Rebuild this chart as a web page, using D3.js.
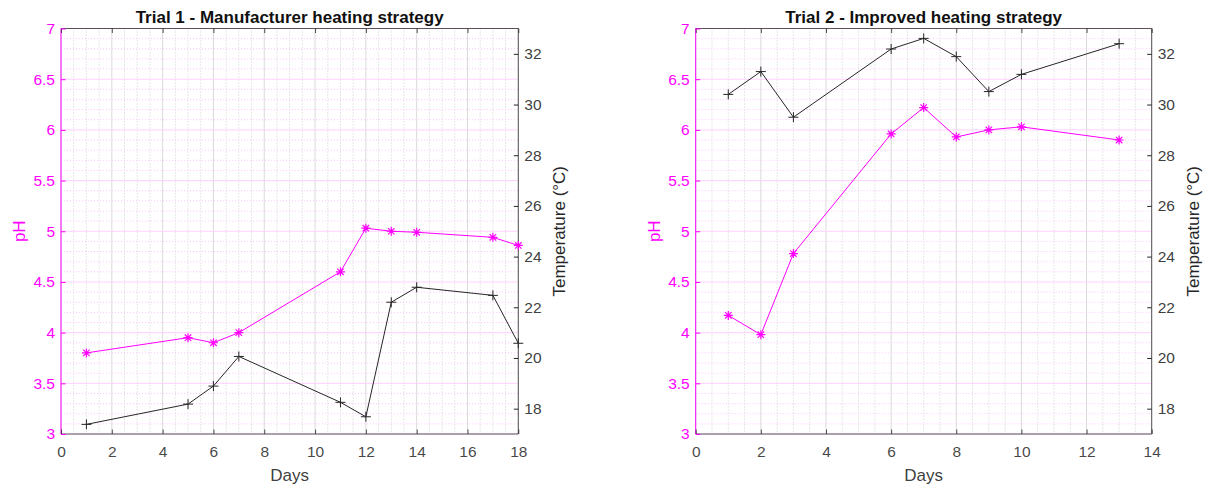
<!DOCTYPE html>
<html>
<head>
<meta charset="utf-8">
<script src="https://cdn.jsdelivr.net/npm/d3@7"></script>
<style>
  html, body { margin: 0; padding: 0; background: #fff; }
  svg { display: block; font-family: "Liberation Sans", Arial, Helvetica, sans-serif; }
</style>
</head>
<body>
<svg id="chart" width="1207" height="484"></svg>
<script>
// Trial 1 - manufacturer heating strategy
const trial1Days = [1, 5, 6, 7, 11, 12, 13, 14, 17, 18];
const trial1PH   = [3.80, 3.95, 3.90, 4.00, 4.60, 5.03, 5.00, 4.99, 4.94, 4.86];
const trial1Temp = [17.38, 18.18, 18.89, 20.06, 18.25, 17.68, 22.20, 22.79, 22.47, 20.58];

// Trial 2 - improved heating strategy
const trial2Days = [1, 2, 3, 6, 7, 8, 9, 10, 13];
const trial2PH   = [4.17, 3.98, 4.78, 5.96, 6.22, 5.93, 6.00, 6.03, 5.90];
const trial2Temp = [30.40, 31.30, 29.50, 32.19, 32.61, 31.89, 30.51, 31.19, 32.40];

// Axis ticks
const phTicks = [3, 3.5, 4, 4.5, 5, 5.5, 6, 6.5, 7];
const tempTicks = [18, 20, 22, 24, 26, 28, 30, 32];
const trial1DayTicks = [0, 2, 4, 6, 8, 10, 12, 14, 16, 18];
const trial2DayTicks = [0, 2, 4, 6, 8, 10, 12, 14];

const titles = ["Trial 1 - Manufacturer heating strategy", "Trial 2 - Improved heating strategy"];

const MAGENTA = "#ff00ff";
const DARK = "#262626";
const TICK_FONT = 15.5;
const LABEL_FONT = 17;

const svg = d3.select("#chart");

function panel(cfg) {
  const { left, right, top, bottom, days, ph, temp, dayTicks, dayMax, title } = cfg;
  const g = svg.append("g");

  const x = d3.scaleLinear().domain([0, dayMax]).range([left, right]);
  const yPH = d3.scaleLinear().domain([3, 7]).range([bottom, top]);
  const yT = d3.scaleLinear().domain([17, 33]).range([bottom, top]);

  // minor grid (dotted)
  const minorX = d3.range(0, dayMax + 0.001, 0.5).filter(v => Math.abs(v / 2 - Math.round(v / 2)) > 1e-6);
  const minorY = d3.range(3, 7.001, 0.1).filter(v => Math.abs(v * 2 - Math.round(v * 2)) > 1e-6);
  g.append("g").selectAll("line").data(minorX).join("line")
    .attr("x1", d => x(d)).attr("x2", d => x(d)).attr("y1", top).attr("y2", bottom)
    .attr("stroke", "#cfcfcf").attr("stroke-width", 1).attr("stroke-dasharray", "1,2");
  g.append("g").selectAll("line").data(minorY).join("line")
    .attr("x1", left).attr("x2", right).attr("y1", d => yPH(d)).attr("y2", d => yPH(d))
    .attr("stroke", "#ffc4ff").attr("stroke-width", 1).attr("stroke-dasharray", "1,2");

  // major grid
  g.append("g").selectAll("line").data(dayTicks).join("line")
    .attr("x1", d => x(d)).attr("x2", d => x(d)).attr("y1", top).attr("y2", bottom)
    .attr("stroke", "#dadada").attr("stroke-width", 1);
  g.append("g").selectAll("line").data(phTicks).join("line")
    .attr("x1", left).attr("x2", right).attr("y1", d => yPH(d)).attr("y2", d => yPH(d))
    .attr("stroke", "#ffd0ff").attr("stroke-width", 1);

  // box edges
  g.append("line").attr("x1", left).attr("x2", right).attr("y1", top).attr("y2", top)
    .attr("stroke", DARK).attr("stroke-opacity", 0.75);
  g.append("line").attr("x1", left).attr("x2", right).attr("y1", bottom).attr("y2", bottom)
    .attr("stroke", DARK).attr("stroke-opacity", 0.75);
  g.append("line").attr("x1", right).attr("x2", right).attr("y1", top).attr("y2", bottom)
    .attr("stroke", DARK).attr("stroke-opacity", 0.75);
  g.append("line").attr("x1", left).attr("x2", left).attr("y1", top).attr("y2", bottom)
    .attr("stroke", MAGENTA);

  // bottom x axis
  const xAxis = d3.axisBottom(x).tickValues(dayTicks).tickFormat(d3.format("d"))
    .tickSizeInner(-4.5).tickSizeOuter(0).tickPadding(12);
  const gx = g.append("g").attr("transform", `translate(0,${bottom})`).call(xAxis);
  gx.select(".domain").remove();
  gx.selectAll(".tick line").attr("stroke", DARK).attr("stroke-opacity", 0.8);
  gx.selectAll("text").attr("fill", DARK).attr("font-size", TICK_FONT).attr("fill-opacity", 0.85);

  // top x ticks
  const gxTop = g.append("g").attr("transform", `translate(0,${top})`)
    .call(d3.axisTop(x).tickValues(dayTicks).tickSizeInner(-4.5).tickSizeOuter(0).tickFormat(""));
  gxTop.select(".domain").remove();
  gxTop.selectAll(".tick line").attr("stroke", DARK).attr("stroke-opacity", 0.8);

  // left pH axis
  const gy = g.append("g").attr("transform", `translate(${left},0)`)
    .call(d3.axisLeft(yPH).tickValues(phTicks).tickFormat(d3.format("~g"))
      .tickSizeInner(-4.5).tickSizeOuter(0).tickPadding(6));
  gy.select(".domain").remove();
  gy.selectAll(".tick line").attr("stroke", MAGENTA);
  gy.selectAll("text").attr("fill", MAGENTA).attr("font-size", TICK_FONT);

  // right temperature axis
  const gyr = g.append("g").attr("transform", `translate(${right},0)`)
    .call(d3.axisRight(yT).tickValues(tempTicks).tickFormat(d3.format("d"))
      .tickSizeInner(-4.5).tickSizeOuter(0).tickPadding(6));
  gyr.select(".domain").remove();
  gyr.selectAll(".tick line").attr("stroke", DARK);
  gyr.selectAll("text").attr("fill", DARK).attr("font-size", TICK_FONT).attr("fill-opacity", 0.9);

  // temperature series (black, plus markers)
  const tempRows = days.map((d, i) => ({ d, v: temp[i] }));
  g.append("path").datum(tempRows)
    .attr("d", d3.line().x(r => x(r.d)).y(r => yT(r.v)))
    .attr("fill", "none").attr("stroke", DARK).attr("stroke-width", 1);
  g.append("g").selectAll("path").data(tempRows).join("path")
    .attr("transform", r => `translate(${x(r.d)},${yT(r.v)})`)
    .attr("d", "M-5,0H5M0,-5V5")
    .attr("stroke", DARK).attr("stroke-width", 1).attr("fill", "none");

  // pH series (magenta, asterisk markers)
  const phRows = days.map((d, i) => ({ d, v: ph[i] }));
  g.append("path").datum(phRows)
    .attr("d", d3.line().x(r => x(r.d)).y(r => yPH(r.v)))
    .attr("fill", "none").attr("stroke", MAGENTA).attr("stroke-width", 1);
  g.append("g").selectAll("path").data(phRows).join("path")
    .attr("transform", r => `translate(${x(r.d)},${yPH(r.v)})`)
    .attr("d", "M-4.5,0H4.5M0,-4.5V4.5M-3.2,-3.2L3.2,3.2M-3.2,3.2L3.2,-3.2")
    .attr("stroke", MAGENTA).attr("stroke-width", 1.2).attr("fill", "none");

  // title and axis labels
  const cx = (left + right) / 2, cy = (top + bottom) / 2;
  g.append("text").attr("x", cx).attr("y", 22.5).attr("text-anchor", "middle")
    .attr("font-size", 17).attr("font-weight", "bold").attr("fill", "#111").text(title);
  g.append("text").attr("x", cx).attr("y", 480.5).attr("text-anchor", "middle")
    .attr("font-size", LABEL_FONT).attr("fill", DARK).attr("fill-opacity", 0.9).text("Days");
  g.append("text").attr("transform", `translate(${left - 36},${cy}) rotate(-90)`)
    .attr("text-anchor", "middle").attr("font-size", LABEL_FONT).attr("fill", MAGENTA).text("pH");
  g.append("text").attr("transform", `translate(${right + 47},${cy}) rotate(-90)`)
    .attr("text-anchor", "middle").attr("font-size", LABEL_FONT).attr("fill", DARK).text("Temperature (°C)");
}

panel({ left: 61, right: 518.3, top: 28.5, bottom: 434,
  days: trial1Days, ph: trial1PH, temp: trial1Temp,
  dayTicks: trial1DayTicks, dayMax: 18, title: titles[0] });

panel({ left: 695.7, right: 1151.7, top: 28.5, bottom: 434,
  days: trial2Days, ph: trial2PH, temp: trial2Temp,
  dayTicks: trial2DayTicks, dayMax: 14, title: titles[1] });
</script>
</body>
</html>
